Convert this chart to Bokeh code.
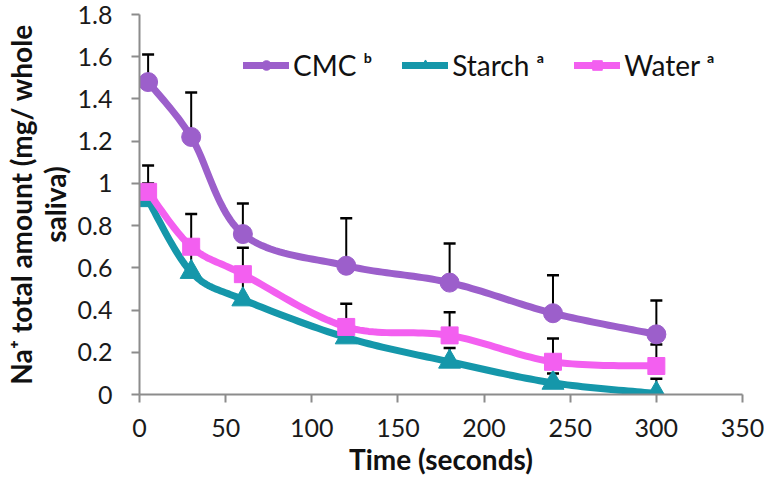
import numpy as np
from bokeh.plotting import figure
from bokeh.models import Range1d, ColumnDataSource, Whisker, TeeHead, Legend, LegendItem, FixedTicker
from bokeh.embed import file_html
from bokeh.resources import INLINE

time_s = [5, 30, 60, 120, 180, 240, 300]
cmc = [1.48, 1.22, 0.76, 0.61, 0.53, 0.385, 0.285]
cmc_err_top = [1.61, 1.43, 0.905, 0.835, 0.715, 0.565, 0.445]
starch = [0.92, 0.58, 0.45, 0.27, 0.155, 0.055, 0.005]
starch_err_top = [1.0, 0.68, 0.56, 0.30, 0.22, 0.10, 0.075]
water = [0.96, 0.70, 0.57, 0.32, 0.28, 0.155, 0.135]
water_err_top = [1.085, 0.855, 0.695, 0.43, 0.39, 0.265, 0.237]

x_ticks = [0, 50, 100, 150, 200, 250, 300, 350]
y_ticks = [0, 0.2, 0.4, 0.6, 0.8, 1.0, 1.2, 1.4, 1.6, 1.8]
y_tick_labels = {0: "0", 0.2: "0.2", 0.4: "0.4", 0.6: "0.6", 0.8: "0.8", 1.0: "1",
                 1.2: "1.2", 1.4: "1.4", 1.6: "1.6", 1.8: "1.8"}

FONT = "Lato"


def smooth(xs, ys, n=24):
    P = np.column_stack([xs, ys]).astype(float)
    P = np.vstack([P[0], P, P[-1]])
    out = []
    t = np.linspace(0, 1, n)
    for i in range(1, len(P) - 2):
        p0, p1, p2, p3 = P[i - 1], P[i], P[i + 1], P[i + 2]
        c1 = p1 + (p2 - p0) / 6.0
        c2 = p2 - (p3 - p1) / 6.0
        tt = t[:, None]
        seg = ((1 - tt) ** 3) * p1 + 3 * ((1 - tt) ** 2) * tt * c1 + 3 * (1 - tt) * tt ** 2 * c2 + tt ** 3 * p2
        out.append(seg if i == 1 else seg[1:])
    s = np.vstack(out)
    return s[:, 0], s[:, 1]


p = figure(width=764, height=478, output_backend="svg", toolbar_location=None,
           x_range=Range1d(0, 350), y_range=Range1d(0, 1.8),
           min_border_left=139, min_border_right=22, min_border_top=14, min_border_bottom=84)
p.outline_line_color = None
p.xgrid.visible = False
p.ygrid.visible = False
p.background_fill_color = "white"
p.border_fill_color = "white"

for ax in (p.xaxis[0], p.yaxis[0]):
    ax.axis_line_color = "#8c8c8c"
    ax.axis_line_width = 2
    ax.major_tick_line_color = "#8c8c8c"
    ax.major_tick_line_width = 2
    ax.major_tick_in = 0
    ax.major_tick_out = 8
    ax.minor_tick_line_color = None
    ax.major_label_text_font = FONT
    ax.major_label_text_font_size = "25px"
    ax.major_label_text_color = "#1a1a1a"
    ax.axis_label_text_font = FONT
    ax.axis_label_text_font_style = "bold"
    ax.axis_label_text_font_size = "28px"
    ax.axis_label_text_line_height = 1.0
    ax.axis_label_text_color = "#111111"

p.xaxis.ticker = FixedTicker(ticks=x_ticks)
p.yaxis.ticker = FixedTicker(ticks=y_ticks)
p.yaxis.major_label_overrides = y_tick_labels
p.xaxis.major_label_standoff = 16
p.yaxis.major_label_standoff = 19
p.xaxis.axis_label = "Time (seconds)"
p.xaxis.axis_label_standoff = 2
p.yaxis.axis_label = "Na\u207a total amount (mg/ whole\nsaliva)"
p.yaxis.axis_label_standoff = 3

series = [
    ("CMC \u1d47", cmc, cmc_err_top, "#9c5fcb", "circle", 19),
    ("Starch \u1d43", starch, starch_err_top, "#1597aa", "triangle", 22),
    ("Water \u1d43", water, water_err_top, "#f35ff0", "square", 17),
]

# error bars (underlay)
for name, ys, tops, color, marker, size in series:
    src = ColumnDataSource(dict(x=time_s, lower=ys, upper=tops))
    w = Whisker(source=src, base="x", lower="lower", upper="upper", dimension="height",
                line_color="black", line_width=2,
                upper_head=TeeHead(size=12, line_color="black", line_width=2.5),
                lower_head=None)
    p.add_layout(w)

items = []
for name, ys, tops, color, marker, size in series:
    sx, sy = smooth(time_s, ys)
    l = p.line(sx, sy, line_color=color, line_width=7, line_cap="round", line_join="round")
    s = p.scatter(time_s, ys, marker=marker, size=size, fill_color=color, line_color=color)
    items.append(LegendItem(label=name, renderers=[l, s]))

legend = Legend(items=items, location=(104, 312), orientation="horizontal",
                label_text_font=FONT, label_text_font_size="28px", label_text_color="#111111",
                glyph_width=46, glyph_height=24, spacing=30, padding=4, margin=0,
                label_standoff=4, border_line_color=None, background_fill_alpha=0)
p.add_layout(legend)

open("out.html", "w").write(file_html(p, INLINE))
